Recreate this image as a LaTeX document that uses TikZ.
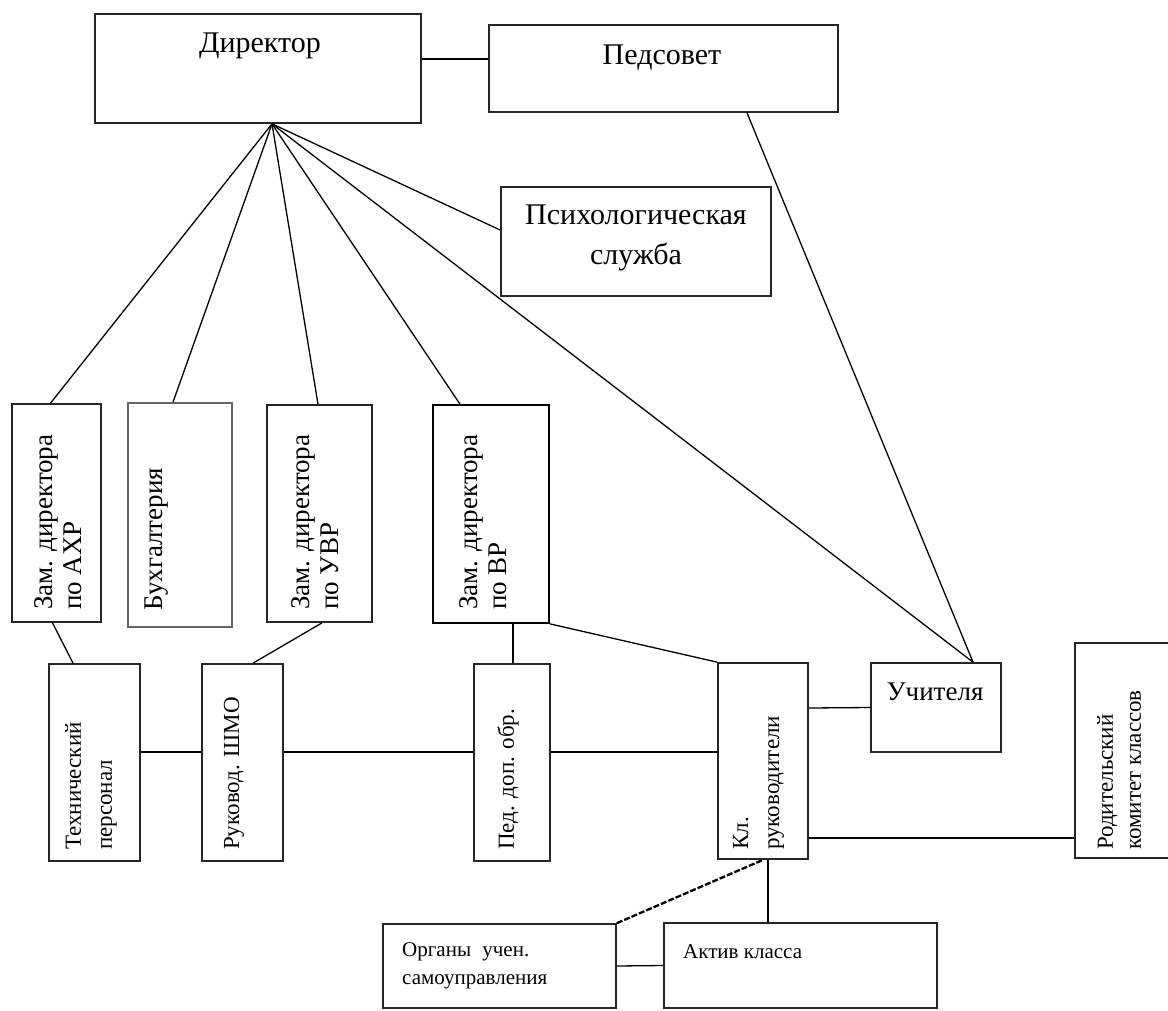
\documentclass[tikz,border=0pt]{standalone}
\usepackage{fontspec}
\setmainfont{Liberation Serif}
\usetikzlibrary{calc}
\begin{document}
\begin{tikzpicture}[x=1pt,y=-1pt,
  box/.style={draw=black!85, line width=1.7pt, inner sep=0pt},
  lbl/.style={inner sep=0pt, font=\fontsize{30}{40}\selectfont, align=center},
  vlbl/.style={inner sep=0pt, rotate=90, anchor=west, align=left},
  bigv/.style={font=\fontsize{27}{29}\selectfont},
  smallv/.style={font=\fontsize{23}{31}\selectfont},
  conn/.style={line width=1.3pt},
  thickconn/.style={line width=2.3pt}
]
\useasboundingbox[fill=white] (0,0) rectangle (1168,1010);

% boxes
\node[box, minimum width=326, minimum height=109] (dir) at (258,68.5) {};
\node[box, minimum width=349, minimum height=87] (sov) at (663.5,68.5) {};
\node[box, minimum width=270, minimum height=109] (psy) at (636,241.5) {};
\node[box, minimum width=89, minimum height=218] (ahr) at (56.5,513) {};
\node[box, minimum width=104, minimum height=224, draw=black!60] (buh) at (180,515) {};
\node[box, minimum width=105, minimum height=217] (uvr) at (319.5,513.5) {};
\node[box, minimum width=116, minimum height=218, draw=black] (vr) at (491,514) {};
\node[box, minimum width=91, minimum height=197] (tech) at (94.5,762.5) {};
\node[box, minimum width=81, minimum height=197] (ruk) at (242.5,762.5) {};
\node[box, minimum width=76, minimum height=197] (pdo) at (512,762.5) {};
\node[box, minimum width=90, minimum height=196] (kl) at (763,761) {};
\node[box, minimum width=130, minimum height=89] (uch) at (936,707.5) {};
\node[box, minimum width=100, minimum height=215] (rod) at (1125,750.5) {};
\node[box, minimum width=233, minimum height=84] (org) at (499.5,966) {};
\node[box, minimum width=273, minimum height=85] (akt) at (800.5,965.5) {};

% labels
\node[lbl] (dirT) at (260,46) {Директор};
\node[lbl] (sovT) at (662,58) {Педсовет};
\node[lbl] (psyT) at (636,238) {Психологическая\\служба};
\node[lbl, font=\fontsize{27}{30}\selectfont] (uchT) at (935,692) {Учителя};
\node[vlbl, bigv] (ahrT) at (58,610) {Зам. директора\\по АХР};
\node[vlbl, bigv] (buhT) at (157,611) {Бухгалтерия};
\node[vlbl, bigv] (uvrT) at (315.5,610) {Зам. директора\\по УВР};
\node[vlbl, bigv] (vrT) at (483.5,610) {Зам. директора\\по ВР};
\node[vlbl, smallv] (techT) at (91,850) {Технический\\персонал};
\node[vlbl, smallv] (rukT) at (234,850) {Руковод. ШМО};
\node[vlbl, smallv] (pdoT) at (508,850) {Пед. доп. обр.};
\node[vlbl, smallv] (klT) at (758.5,850) {Кл.\\руководители};
\node[vlbl, font=\fontsize{23}{28}\selectfont] (rodT) at (1119,850) {Родительский\\комитет классов};
\node[inner sep=0pt, anchor=west, align=left, font=\fontsize{21}{28}\selectfont] (orgT) at (402,966) {Органы\hspace{6pt} учен.\\самоуправления};
\node[inner sep=0pt, anchor=west, font=\fontsize{21}{28}\selectfont] (aktT) at (683,952) {Актив класса};

% connectors
\coordinate (hub) at ($(dir.south)+(14,0)$);
\draw[conn] ($(dir.east)+(0,-9.5)$) -- ($(sov.west)+(0,-9.5)$);
\draw[conn] (hub) -- ($(psy.west)+(0,-11.5)$);
\draw[conn] (hub) -- ($(ahr.north)+(-6,0)$);
\draw[conn] (hub) -- ($(buh.north)+(-7,0)$);
\draw[conn] (hub) -- ($(uvr.north)+(-1.5,0)$);
\draw[conn] (hub) -- ($(vr.north)+(-31,0)$);
\draw[conn] (hub) -- ($(uch.north)+(37,0)$);
\draw[conn] ($(sov.south)+(83.5,0)$) -- ($(uch.north)+(37,0)$);
\draw[conn] ($(ahr.south)+(-4,0)$) -- ($(tech.north)+(-21.5,0)$);
\draw[conn] ($(uvr.south)+(2.5,0)$) -- ($(ruk.north)+(10.5,0)$);
\draw[conn] ($(vr.south)+(22,0)$) -- ($(pdo.north)+(1,0)$);
\draw[conn] (vr.south east) -- (kl.north west);
\draw[conn] ($(tech.east)+(0,-10.5)$) -- ($(ruk.west)+(0,-10.5)$);
\draw[thickconn] ($(ruk.east)+(0,-10.5)$) -- ($(pdo.west)+(0,-10.5)$);
\draw[thickconn] ($(pdo.east)+(0,-10.5)$) -- ($(kl.west)+(0,-9)$);
\draw[conn] ($(kl.east)+(0,-53)$) -- (uch.west);
\draw[conn] ($(kl.east)+(0,77)$) -- ($(rod.west)+(0,87.5)$);
\draw[conn] ($(kl.south)+(5,0)$) -- ($(akt.north)+(-32.5,0)$);
\draw[thickconn, dash pattern=on 6pt off 2pt] (org.north east) -- (kl.south);
\draw[conn] (org.east) -- (akt.west);
\end{tikzpicture}
\end{document}
